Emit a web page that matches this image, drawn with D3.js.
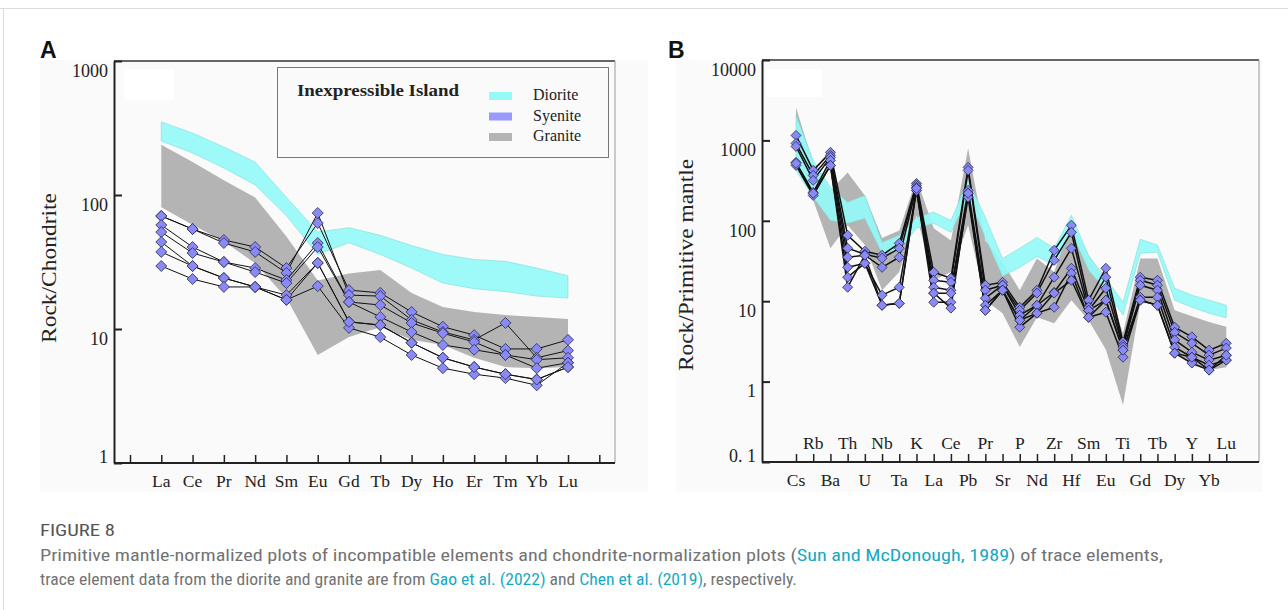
<!DOCTYPE html>
<html>
<head>
<meta charset="utf-8">
<title>Figure 8 - REE and spider diagrams</title>
<style>
body {
  margin: 0;
  background: #fff;
}

svg {
  display: block;
}

.serif {
  font-family: "Liberation Serif", "Times New Roman", serif;
  fill: #222;
}

.caption {
  font-family: "Roboto Condensed", "Liberation Sans Narrow", "DejaVu Sans Condensed", Roboto, sans-serif;
  fill: #737373;
}

.caption .link {
  fill: #17a8c2;
}
</style>
<script src="https://d3js.org/d3.v7.min.js"></script>
</head>
<body>
<script>
// ---- panel A: chondrite normalized REE ----
const reeElements = ['La', 'Ce', 'Pr', 'Nd', 'Sm', 'Eu', 'Gd', 'Tb', 'Dy', 'Ho', 'Er', 'Tm', 'Yb', 'Lu'];
const reeTicks = [1, 10, 100, 1000];
const reeDioriteHigh = [351, 290, 228, 176, 96, 53, 57, 50, 42, 36, 33, 32, 28.5, 25];
const reeDioriteLow = [253, 206, 159, 119, 70, 36, 44, 36, 28.5, 22, 20, 19, 17.6, 17];
const reeGraniteHigh = [237, 176, 129, 96, 49, 23, 26, 27.6, 18.6, 14.6, 13.4, 12.7, 12.3, 11.9];
const reeGraniteLow = [81, 60, 45, 31, 17, 6.4, 8.7, 10.3, 8.3, 7.6, 6.1, 5.2, 5.1, 5.2];
const reeSyenite = [
  [69.7, 55.7, 46.2, 40.9, 28.5, 61.8, 19.5, 18.6, 13.4, 10.4, 9.0, 7.1, 7.1, 8.3],
  [69.7, 55.7, 43.8, 37.6, 26.2, 73.4, 17.9, 17.6, 11.7, 9.5, 8.3, 11.1, 6.1, 6.9],
  [59.7, 40.9, 31.6, 28.5, 23.2, 43.8, 15.9, 15.1, 11.1, 9.3, 8.0, 6.4, 5.9, 6.1],
  [52.9, 36.9, 31.6, 26.6, 22.0, 40.9, 15.9, 12.3, 9.5, 7.6, 7.0, 6.4, 5.1, 5.6],
  [44.6, 29.5, 24.0, 20.6, 17.9, 31.1, 11.3, 10.7, 7.9, 6.1, 5.2, 4.6, 4.2, 5.2],
  [37.6, 29.5, 24.0, 20.6, 16.5, 20.9, 10.2, 8.7, 6.4, 5.1, 4.6, 4.3, 3.8, 5.6],
  [29.5, 23.6, 20.6, 20.6, 16.5, 31.1, 11.3, 10.7, 7.9, 6.1, 5.2, 4.6, 4.2, 5.2]
];

// ---- panel B: primitive mantle normalized ----
const spiderElements = ['Cs', 'Rb', 'Ba', 'Th', 'U', 'Nb', 'Ta', 'K', 'La', 'Ce', 'Pb', 'Pr', 'Sr',
  'P', 'Nd', 'Zr', 'Hf', 'Sm', 'Eu', 'Ti', 'Gd', 'Tb', 'Dy', 'Y', 'Yb', 'Lu'];
const spiderTicks = [0.1, 1, 10, 100, 1000, 10000];
const spiderTickLabels = ['0. 1', '1', '10', '100', '1000', '10000'];
const spiderDioriteHigh = [2046, 565, 261, 170, 207, 54, 66, 110, 128, 101, 318, 110, 34, 45.5, 62, 45.5, 117, 37, 19.3, 9.7, 59, 50, 14.5, 11.9, 10.3, 8.9];
const spiderDioriteLow = [424, 196, 101, 93, 107, 39.5, 43, 81, 93, 72, 196, 62, 20.5, 26.4, 36, 28, 72, 24.3, 13.7, 6.7, 39.5, 40.6, 10.3, 8.4, 7.1, 6.2];
const spiderGraniteHigh = [2570, 518, 239, 400, 207, 61, 76, 337, 81, 57, 796, 57, 30.5, 13.7, 34, 23, 95, 37, 18, 4.0, 34, 34, 7.7, 6.5, 5.5, 4.8];
const spiderGraniteLow = [751, 180, 45.5, 88, 50, 13.7, 23, 117, 18.2, 23, 88, 10.3, 7.1, 2.7, 6.3, 5.3, 10.3, 5.8, 2.5, 0.51, 9.4, 9.4, 2.26, 1.6, 1.39, 1.51];
const spiderSyenite = [
  [1153, 424, 710, 66, 41.8, 37.3, 52.5, 292, 22.9, 19.3, 462, 15.8, 17.2, 8.4, 13.7, 43, 88, 10.3, 25.7, 3.1, 19.9, 18.2, 4.75, 3.6, 2.46, 3.0],
  [918, 367, 652, 45.5, 38.4, 34.2, 45.5, 276, 18.2, 17.2, 424, 13.7, 15.8, 7.7, 12.6, 32.3, 72, 8.4, 19.9, 2.84, 18.2, 15.8, 4.1, 3.0, 2.13, 2.61],
  [842, 318, 615, 35.2, 37.3, 26.4, 35.2, 261, 14.9, 13.7, 239, 10.9, 15.8, 6.7, 8.9, 19.9, 45.5, 7.7, 14.5, 2.68, 15.8, 13.7, 3.3, 2.32, 1.85, 2.13],
  [533, 226, 564, 26.4, 29.6, 11.9, 14.9, 239, 12.6, 12.6, 220, 8.9, 13.7, 5.8, 8.9, 12.9, 25.7, 7.7, 10.3, 2.46, 11.2, 11.2, 2.68, 2.01, 1.6, 1.85],
  [489, 207, 489, 19.9, 29.6, 8.9, 9.4, 239, 9.7, 9.7, 196, 7.7, 13.7, 4.75, 7.1, 8.4, 22.3, 6.3, 7.3, 2.01, 10.3, 8.9, 2.26, 1.7, 1.39, 1.85],
  [518, 220, 489, 14.9, 37.3, 8.9, 9.4, 253, 12.6, 8.2, 220, 7.7, 13.7, 5.8, 7.1, 12.6, 18.2, 6.3, 10.3, 2.46, 10.3, 8.9, 2.26, 2.01, 1.39, 2.13]
];

const legendItems = ['Diorite', 'Syenite', 'Granite'];

const width = 1288,
  height = 610;

const colors = {
  Diorite: '#96faf7',
  Syenite: '#9999ff',
  Granite: '#b4b4b4'
};

let svg = d3.select('body').append('svg')
  .attr('width', width)
  .attr('height', height);

// page frame
svg.append('line')
  .attr('x1', 0).attr('x2', width).attr('y1', 8.5).attr('y2', 8.5)
  .attr('stroke', '#dcdcdc');
svg.append('line')
  .attr('x1', 3.5).attr('x2', 3.5).attr('y1', 8).attr('y2', height)
  .attr('stroke', '#dcdcdc');

function diamond(r) {
  return 'M0,' + (-r) + 'L' + r + ',0L0,' + r + 'L' + (-r) + ',0Z';
}

function drawPanel(o) {
  let g = svg.append('g');
  const x = o.x, y = o.y;
  const yBottom = y.range()[0], yTop = y.range()[1];

  g.append('rect')
    .attr('x', o.bg[0]).attr('y', 60)
    .attr('width', o.bg[1] - o.bg[0]).attr('height', 432)
    .attr('fill', '#fafafa');

  g.append('rect')
    .attr('x', o.whiteBox[0]).attr('y', o.whiteBox[1])
    .attr('width', o.whiteBox[2]).attr('height', o.whiteBox[3])
    .attr('fill', '#fff');

  // bands
  let area = d3.area()
    .x((d, i) => x(i))
    .y0(d => y(d[1]))
    .y1(d => y(d[0]));

  g.append('path')
    .datum(d3.zip(o.graniteHigh, o.graniteLow))
    .attr('d', area)
    .attr('fill', colors.Granite);

  g.append('path')
    .datum(d3.zip(o.dioriteHigh, o.dioriteLow))
    .attr('d', area)
    .attr('fill', colors.Diorite)
    .attr('fill-opacity', 0.92)
    .attr('stroke', '#7fdcd9')
    .attr('stroke-width', 0.6);

  // syenite samples
  let line = d3.line()
    .x((d, i) => x(i))
    .y(d => y(d));

  g.append('g').selectAll('path')
    .data(o.syenite)
    .enter().append('path')
      .attr('d', line)
      .attr('fill', 'none')
      .attr('stroke', '#111')
      .attr('stroke-width', o.lineWidth);

  o.syenite.forEach(s => {
    g.append('g').selectAll('path')
      .data(s)
      .enter().append('path')
        .attr('d', diamond(o.markerR))
        .attr('transform', (d, i) => 'translate(' + x(i) + ',' + y(d) + ')')
        .attr('fill', '#8a8af6')
        .attr('stroke', '#2a2a4a')
        .attr('stroke-width', 0.8);
  });

  // frame: top dark, right light
  g.append('line')
    .attr('x1', o.left).attr('x2', o.right).attr('y1', yTop).attr('y2', yTop)
    .attr('stroke', '#333').attr('stroke-width', 1.5);
  g.append('line')
    .attr('x1', o.right).attr('x2', o.right).attr('y1', yTop).attr('y2', yBottom)
    .attr('stroke', '#999').attr('stroke-width', 1);

  // y axis
  let yAxis = g.append('g')
    .attr('transform', 'translate(' + o.left + ',0)')
    .call(d3.axisLeft(y)
      .tickValues(o.yTicks)
      .tickFormat((d, i) => o.yTickLabels[i])
      .tickSize(-8)
      .tickSizeOuter(0)
      .tickPadding(6));
  yAxis.select('.domain').attr('stroke', '#222').attr('stroke-width', 2);
  yAxis.selectAll('.tick line').attr('stroke', '#222').attr('stroke-width', 2);
  yAxis.selectAll('.tick text')
    .attr('class', 'serif')
    .attr('font-size', 18)
    .attr('dy', '0.35em')
    .attr('y', d => Math.min(9, yBottom - 7 - y(d)));

  // x axis
  let xAxis = g.append('g')
    .attr('transform', 'translate(0,' + yBottom + ')')
    .call(d3.axisBottom(x)
      .tickValues(o.xTicks)
      .tickFormat('')
      .tickSize(-8)
      .tickSizeOuter(0));
  xAxis.select('.domain').remove();
  xAxis.selectAll('.tick line').attr('stroke', '#222').attr('stroke-width', 1.5);
  g.append('line')
    .attr('x1', o.left).attr('x2', o.right).attr('y1', yBottom).attr('y2', yBottom)
    .attr('stroke', '#222').attr('stroke-width', 2);

  g.append('g').selectAll('text')
    .data(o.elements)
    .enter().append('text')
      .attr('class', 'serif')
      .attr('font-size', 17.5)
      .attr('text-anchor', 'middle')
      .attr('x', (d, i) => x(i))
      .attr('y', (d, i) => o.labelY(i))
      .text(d => d);

  // y title
  g.append('text')
    .attr('class', 'serif')
    .attr('font-size', 21)
    .attr('text-anchor', 'middle')
    .attr('transform', 'translate(' + o.titleX + ',' + o.titleY + ') rotate(-90)')
    .attr('textLength', o.titleLength)
    .attr('lengthAdjust', 'spacingAndGlyphs')
    .text(o.title);

  // panel letter
  svg.append('text')
    .attr('x', o.letterX).attr('y', 58)
    .attr('font-family', 'Liberation Sans, Arial, sans-serif')
    .attr('font-weight', 'bold')
    .attr('font-size', 23)
    .attr('fill', '#111')
    .text(o.letter);

  return g;
}

// panel A
let xA = d3.scaleLinear().domain([-1, reeElements.length]).range([130, 599.3]);
let yA = d3.scaleLog().domain([1, 1000]).range([463, 61]);

let gA = drawPanel({
  letter: 'A', letterX: 40,
  bg: [40, 648], whiteBox: [124, 69, 50, 31],
  x: xA, y: yA, left: 114, right: 615,
  xTicks: d3.range(-1, reeElements.length + 1),
  yTicks: reeTicks, yTickLabels: reeTicks.map(String),
  elements: reeElements,
  labelY: () => 487,
  dioriteHigh: reeDioriteHigh, dioriteLow: reeDioriteLow,
  graniteHigh: reeGraniteHigh, graniteLow: reeGraniteLow,
  syenite: reeSyenite, markerR: 5.5, lineWidth: 1,
  title: 'Rock/Chondrite', titleX: 56, titleY: 268, titleLength: 150
});

// legend in panel A
let legend = gA.append('g');
legend.append('rect')
  .attr('x', 277.5).attr('y', 67.5).attr('width', 331).attr('height', 90)
  .attr('fill', '#fafafa')
  .attr('stroke', '#777');
legend.append('text')
  .attr('class', 'serif')
  .attr('x', 297).attr('y', 96)
  .attr('font-size', 16)
  .attr('font-weight', 'bold')
  .attr('textLength', 162)
  .attr('lengthAdjust', 'spacingAndGlyphs')
  .text('Inexpressible Island');
legend.selectAll('.sw')
  .data(legendItems)
  .enter().append('rect')
    .attr('x', 489).attr('y', (d, i) => 92 + i * 20.5)
    .attr('width', 23).attr('height', 8)
    .attr('fill', d => colors[d]);
legend.selectAll('.lb')
  .data(legendItems)
  .enter().append('text')
    .attr('class', 'serif')
    .attr('font-size', 16)
    .attr('x', 533).attr('y', (d, i) => 100 + i * 20.5)
    .text(d => d);

// panel B
let xB = d3.scalePoint().domain(d3.range(spiderElements.length)).range([796, 1226.3]);
let yB = d3.scaleLog().domain([0.1, 10000]).range([462, 60]);

drawPanel({
  letter: 'B', letterX: 668,
  bg: [676, 1262], whiteBox: [766, 69, 56, 28],
  x: xB, y: yB, left: 762, right: 1259,
  xTicks: d3.range(spiderElements.length),
  yTicks: spiderTicks, yTickLabels: spiderTickLabels,
  elements: spiderElements,
  labelY: i => (i % 2 ? 449 : 486),
  dioriteHigh: spiderDioriteHigh, dioriteLow: spiderDioriteLow,
  graniteHigh: spiderGraniteHigh, graniteLow: spiderGraniteLow,
  syenite: spiderSyenite, markerR: 5, lineWidth: 1.5,
  title: 'Rock/Primitive mantle', titleX: 693, titleY: 265, titleLength: 212
});

// caption
let cap = svg.append('g').attr('class', 'caption');
cap.append('text')
  .attr('x', 40).attr('y', 536)
  .attr('font-size', 16)
  .attr('textLength', 75)
  .attr('lengthAdjust', 'spacingAndGlyphs')
  .attr('fill', '#555')
  .text('FIGURE 8');

let line1 = cap.append('text')
  .attr('x', 40).attr('y', 561)
  .attr('font-size', 16)
  .attr('textLength', 1123)
  .attr('lengthAdjust', 'spacingAndGlyphs');
line1.append('tspan').text('Primitive mantle-normalized plots of incompatible elements and chondrite-normalization plots (');
line1.append('tspan').attr('class', 'link').text('Sun and McDonough, 1989');
line1.append('tspan').text(') of trace elements,');

let line2 = cap.append('text')
  .attr('x', 40).attr('y', 585)
  .attr('font-size', 16)
  .attr('textLength', 757)
  .attr('lengthAdjust', 'spacingAndGlyphs');
line2.append('tspan').text('trace element data from the diorite and granite are from ');
line2.append('tspan').attr('class', 'link').text('Gao et al. (2022)');
line2.append('tspan').text(' and ');
line2.append('tspan').attr('class', 'link').text('Chen et al. (2019)');
line2.append('tspan').text(', respectively.');
</script>
</body>
</html>
